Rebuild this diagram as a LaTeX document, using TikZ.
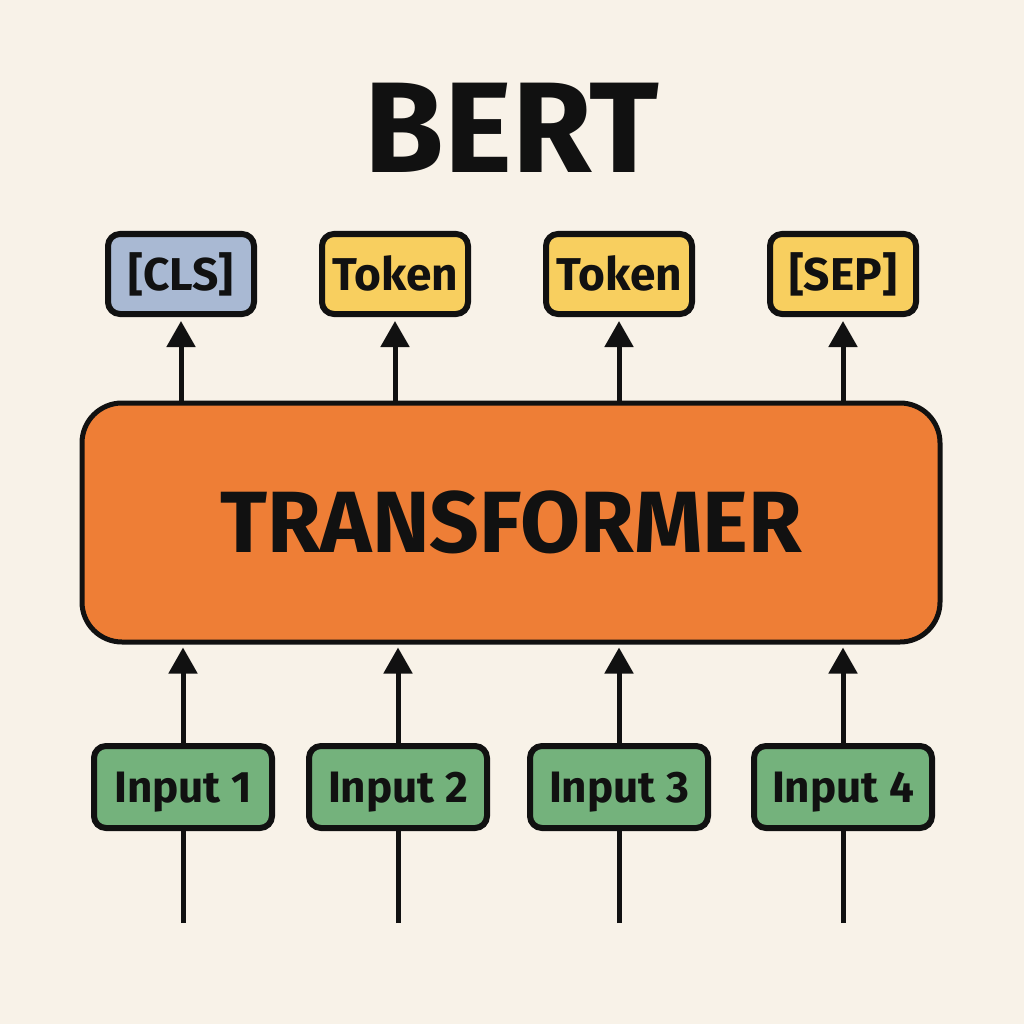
\documentclass[tikz,border=0pt]{standalone}
\usepackage{fontspec}
\setmainfont{Fira Sans}
\usetikzlibrary{arrows.meta}
\definecolor{bgc}{HTML}{F8F2E8}
\definecolor{clsc}{HTML}{A9B9D3}
\definecolor{tokc}{HTML}{F8CF5F}
\definecolor{trc}{HTML}{EE7E36}
\definecolor{inc}{HTML}{74B27C}
\definecolor{ink}{HTML}{111111}
\tikzset{
  outbox/.style={draw=ink, line width=6pt, rounded corners=12pt, minimum width=146pt, minimum height=80pt, inner sep=0pt,
    font=\fontsize{46}{50}\selectfont\bfseries, text height=32pt, text depth=0pt, text=ink},
  inbox/.style={draw=ink, fill=inc, line width=6pt, rounded corners=12pt, minimum width=178pt, minimum height=82pt, inner sep=0pt,
    font=\fontsize{44}{48}\selectfont\bfseries, text height=30pt, text depth=0pt, text=ink},
  conn/.style={draw=ink, line width=5pt},
  arr/.style={conn, -{Triangle[width=28pt,length=26pt]}}
}
\begin{document}
\begin{tikzpicture}[x=1pt,y=-1pt]
\fill[bgc] (0,0) rectangle (1024,1024);
\useasboundingbox (0,0) rectangle (1024,1024);
\node[font=\fontsize{129}{135}\selectfont\bfseries, text=ink, text height=89pt, text depth=0pt, inner sep=0pt] (title) at (512,128) {BERT};
\node[draw=ink, fill=trc, line width=5pt, rounded corners=40pt, minimum width=858pt, minimum height=239pt, inner sep=0pt,
  font=\fontsize{87}{92}\selectfont\bfseries, text height=60pt, text depth=0pt, text=ink] (T) at (511,522.5) {TRANSFORMER};
\node[outbox, fill=clsc] (o1) at (181,274) {[CLS]};
\node[outbox, fill=tokc] (o2) at (395,274) {Token};
\node[outbox, fill=tokc] (o3) at (619,274) {Token};
\node[outbox, fill=tokc] (o4) at (843,274) {[SEP]};
\foreach \i in {1,...,4} {
  \draw[arr, shorten >=4pt] (o\i.south |- T.north) -- (o\i.south);
}
\coordinate (b1) at (183,923);
\coordinate (b2) at (398,923);
\coordinate (b3) at (619,923);
\coordinate (b4) at (843,923);
\node[inbox] (i1) at (183,787) {Input 1};
\node[inbox] (i2) at (398,787) {Input 2};
\node[inbox] (i3) at (619,787) {Input 3};
\node[inbox] (i4) at (843,787) {Input 4};
\foreach \i in {1,...,4} {
  \draw[conn] (b\i) -- (i\i.south);
  \draw[arr, shorten >=3pt] (i\i.north) -- (i\i.north |- T.south);
}
\end{tikzpicture}
\end{document}
